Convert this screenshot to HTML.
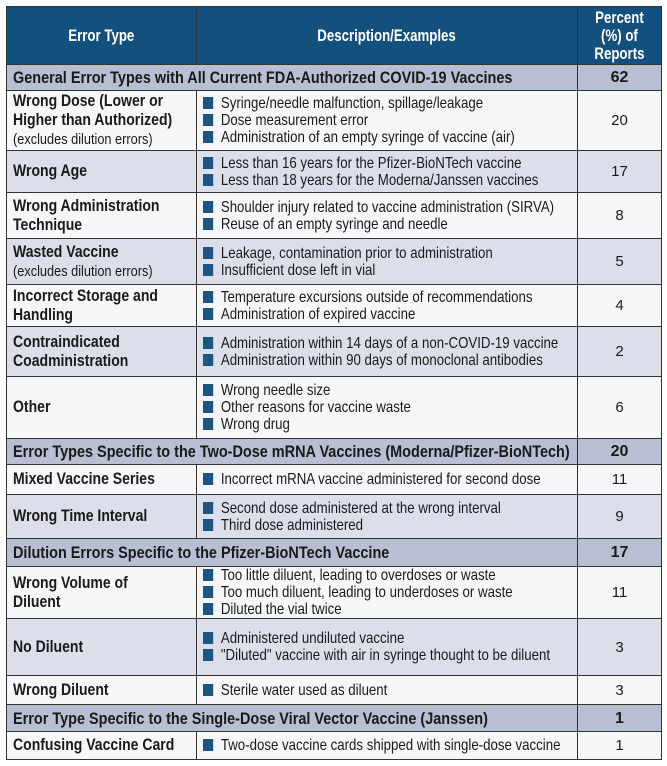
<!DOCTYPE html>
<html><head><meta charset="utf-8"><style>
body{margin:0;background:#fff;width:667px;height:766px;overflow:hidden}
table{position:absolute;left:6px;top:6px;border-collapse:collapse;width:655px;table-layout:fixed;font-family:"Liberation Sans",sans-serif;color:#1a1a1a}
td,th{border:1.5px solid #333;padding:0 6px;font-size:15.6px;line-height:17px;vertical-align:middle;overflow:hidden;white-space:normal}
th{background:#14507e;color:#fff;font-weight:bold;font-size:17px;line-height:18px}
.s td{background:#b9bfd3;font-weight:bold;font-size:17px}
.l{background:#dcdfe9}
.w{background:#f7f7fa}
.n{text-align:center;font-size:15px}
.s td.n{font-size:16px}
.t{font-weight:bold;font-size:16.5px;line-height:19px}
.t small{font-weight:normal;font-size:15px}
.b{display:inline-block;width:12px;height:12px;background:#1b5580;margin-right:9px;vertical-align:-1px}
.c{width:118%;transform:scaleX(.85);transform-origin:0 50%;white-space:nowrap}
.t .c{white-space:normal}
.h{width:128%;margin-left:-14%;transform:scaleX(.78);transform-origin:50% 50%}
</style></head><body>
<table>
<colgroup><col style="width:190px"><col style="width:381px"><col style="width:84px"></colgroup>
<tr style="height:58px"><th><div class="h">Error Type</div></th><th><div class="h">Description/Examples</div></th><th><div class="h">Percent<br>(%) of<br>Reports</div></th></tr>
<tr class="s" style="height:26px"><td colspan="2"><div class="c">General Error Types with All Current FDA-Authorized COVID-19 Vaccines</div></td><td class="n">62</td></tr>
<tr class="w" style="height:60px"><td class="t"><div class="c">Wrong Dose (Lower or Higher than Authorized)<br><small>(excludes dilution errors)</small></div></td><td><div class="c"><span class="b"></span>Syringe/needle malfunction, spillage/leakage<br><span class="b"></span>Dose measurement error<br><span class="b"></span>Administration of an empty syringe of vaccine (air)</div></td><td class="n">20</td></tr>
<tr class="l" style="height:42px"><td class="t"><div class="c">Wrong Age</div></td><td><div class="c"><span class="b"></span>Less than 16 years for the Pfizer-BioNTech vaccine<br><span class="b"></span>Less than 18 years for the Moderna/Janssen vaccines</div></td><td class="n">17</td></tr>
<tr class="w" style="height:46px"><td class="t"><div class="c">Wrong Administration Technique</div></td><td><div class="c"><span class="b"></span>Shoulder injury related to vaccine administration (SIRVA)<br><span class="b"></span>Reuse of an empty syringe and needle</div></td><td class="n">8</td></tr>
<tr class="l" style="height:46px"><td class="t"><div class="c">Wasted Vaccine<br><small>(excludes dilution errors)</small></div></td><td><div class="c"><span class="b"></span>Leakage, contamination prior to administration<br><span class="b"></span>Insufficient dose left in vial</div></td><td class="n">5</td></tr>
<tr class="w" style="height:42px"><td class="t"><div class="c">Incorrect Storage and Handling</div></td><td><div class="c"><span class="b"></span>Temperature excursions outside of recommendations<br><span class="b"></span>Administration of expired vaccine</div></td><td class="n">4</td></tr>
<tr class="l" style="height:50px"><td class="t"><div class="c">Contraindicated Coadministration</div></td><td><div class="c"><span class="b"></span>Administration within 14 days of a non-COVID-19 vaccine<br><span class="b"></span>Administration within 90 days of monoclonal antibodies</div></td><td class="n">2</td></tr>
<tr class="w" style="height:62px"><td class="t"><div class="c">Other</div></td><td><div class="c"><span class="b"></span>Wrong needle size<br><span class="b"></span>Other reasons for vaccine waste<br><span class="b"></span>Wrong drug</div></td><td class="n">6</td></tr>
<tr class="s" style="height:26px"><td colspan="2"><div class="c">Error Types Specific to the Two-Dose mRNA Vaccines (Moderna/Pfizer-BioNTech)</div></td><td class="n">20</td></tr>
<tr class="w" style="height:30px"><td class="t"><div class="c">Mixed Vaccine Series</div></td><td><div class="c"><span class="b"></span>Incorrect mRNA vaccine administered for second dose</div></td><td class="n">11</td></tr>
<tr class="l" style="height:44px"><td class="t"><div class="c">Wrong Time Interval</div></td><td><div class="c"><span class="b"></span>Second dose administered at the wrong interval<br><span class="b"></span>Third dose administered</div></td><td class="n">9</td></tr>
<tr class="s" style="height:28px"><td colspan="2"><div class="c">Dilution Errors Specific to the Pfizer-BioNTech Vaccine</div></td><td class="n">17</td></tr>
<tr class="w" style="height:51px"><td class="t"><div class="c">Wrong Volume of<br>Diluent</div></td><td><div class="c"><span class="b"></span>Too little diluent, leading to overdoses or waste<br><span class="b"></span>Too much diluent, leading to underdoses or waste<br><span class="b"></span>Diluted the vial twice</div></td><td class="n">11</td></tr>
<tr class="l" style="height:57px"><td class="t"><div class="c">No Diluent</div></td><td><div class="c"><span class="b"></span>Administered undiluted vaccine<br><span class="b"></span>"Diluted" vaccine with air in syringe thought to be diluent</div></td><td class="n">3</td></tr>
<tr class="w" style="height:29px"><td class="t"><div class="c">Wrong Diluent</div></td><td><div class="c"><span class="b"></span>Sterile water used as diluent</div></td><td class="n">3</td></tr>
<tr class="s" style="height:27px"><td colspan="2"><div class="c">Error Type Specific to the Single-Dose Viral Vector Vaccine (Janssen)</div></td><td class="n">1</td></tr>
<tr class="w" style="height:28px"><td class="t"><div class="c" style="white-space:nowrap">Confusing Vaccine Card</div></td><td><div class="c"><span class="b"></span>Two-dose vaccine cards shipped with single-dose vaccine</div></td><td class="n">1</td></tr>
</table>
</body></html>
